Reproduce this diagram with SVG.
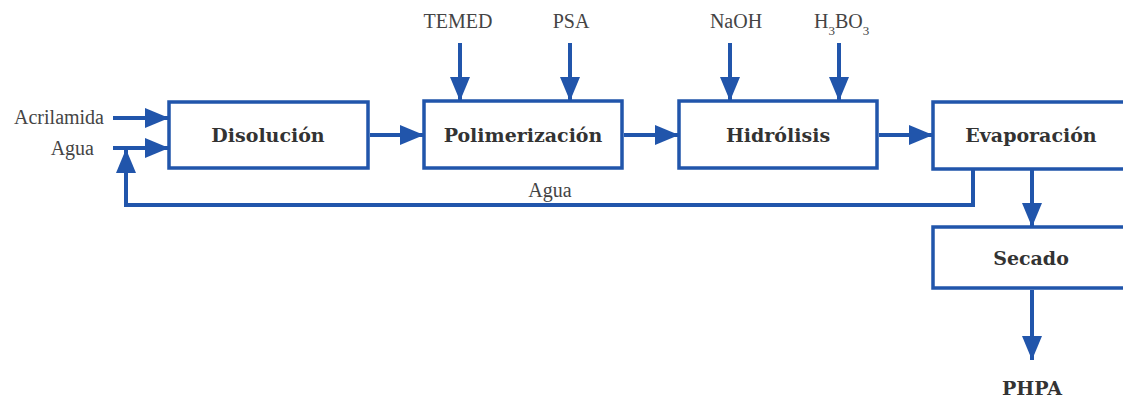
<svg xmlns="http://www.w3.org/2000/svg" width="1123" height="402" viewBox="0 0 1123 402">
  <style>
    .box { fill: #ffffff; stroke: #2155ab; stroke-width: 3.5; }
    .flow { fill: none; stroke: #2155ab; stroke-width: 4; }
    .title { font-family: "DejaVu Serif", "Liberation Serif", serif; font-weight: bold; font-size: 19px; fill: #333333; text-anchor: middle; }
    .lbl { font-family: "Liberation Serif", "Times New Roman", serif; font-size: 20px; fill: #444444; }
    .sub { font-size: 13px; }
  </style>
  <defs>
    <marker id="head" markerUnits="userSpaceOnUse" markerWidth="26" markerHeight="22" viewBox="0 0 26 22" refX="24" refY="11" orient="auto">
      <polygon points="0,1 24,11 0,21" fill="#2155ab"/>
    </marker>
  </defs>

  <!-- process blocks -->
  <g id="disolucion">
    <rect class="box" x="169" y="102" width="199" height="66"/>
    <text class="title" x="268" y="142">Disolución</text>
  </g>
  <g id="polimerizacion">
    <rect class="box" x="424" y="101" width="198" height="67"/>
    <text class="title" x="523" y="142">Polimerización</text>
  </g>
  <g id="hidrolisis">
    <rect class="box" x="679" y="101" width="198" height="67"/>
    <text class="title" x="778" y="142">Hidrólisis</text>
  </g>
  <g id="evaporacion">
    <rect class="box" x="933" y="102" width="220" height="67"/>
    <text class="title" x="1031" y="142">Evaporación</text>
  </g>
  <g id="secado">
    <rect class="box" x="933" y="227" width="220" height="61"/>
    <text class="title" x="1031" y="265">Secado</text>
  </g>
  <g id="phpa">
    <text class="title" x="1032" y="395">PHPA</text>
  </g>

  <!-- stream labels -->
  <g id="labels">
    <text class="lbl" x="104" y="124" text-anchor="end">Acrilamida</text>
    <text class="lbl" x="94" y="155" text-anchor="end">Agua</text>
    <text class="lbl" x="458" y="28" text-anchor="middle">TEMED</text>
    <text class="lbl" x="571" y="28" text-anchor="middle">PSA</text>
    <text class="lbl" x="736" y="28" text-anchor="middle">NaOH</text>
    <text class="lbl" x="814" y="28">H<tspan class="sub" dy="7">3</tspan><tspan dy="-7">BO</tspan><tspan class="sub" dy="7">3</tspan></text>
    <text class="lbl" x="550" y="197" text-anchor="middle">Agua</text>
  </g>

  <!-- connectors -->
  <g id="connectors">
    <line class="flow" x1="113" y1="118" x2="169" y2="118" marker-end="url(#head)"/>
    <line class="flow" x1="113" y1="148" x2="169" y2="148" marker-end="url(#head)"/>
    <line class="flow" x1="370" y1="135" x2="424" y2="135" marker-end="url(#head)"/>
    <line class="flow" x1="624" y1="135" x2="679" y2="135" marker-end="url(#head)"/>
    <line class="flow" x1="879" y1="135" x2="933" y2="135" marker-end="url(#head)"/>
    <line class="flow" x1="460" y1="43" x2="460" y2="101" marker-end="url(#head)"/>
    <line class="flow" x1="570" y1="43" x2="570" y2="101" marker-end="url(#head)"/>
    <line class="flow" x1="730" y1="43" x2="730" y2="101" marker-end="url(#head)"/>
    <line class="flow" x1="839" y1="43" x2="839" y2="101" marker-end="url(#head)"/>
    <line class="flow" x1="1032" y1="170" x2="1032" y2="227" marker-end="url(#head)"/>
    <line class="flow" x1="1032" y1="290" x2="1032" y2="360" marker-end="url(#head)"/>
    <polyline class="flow" points="973,170 973,205 126,205 126,149" marker-end="url(#head)"/>
  </g>
</svg>
